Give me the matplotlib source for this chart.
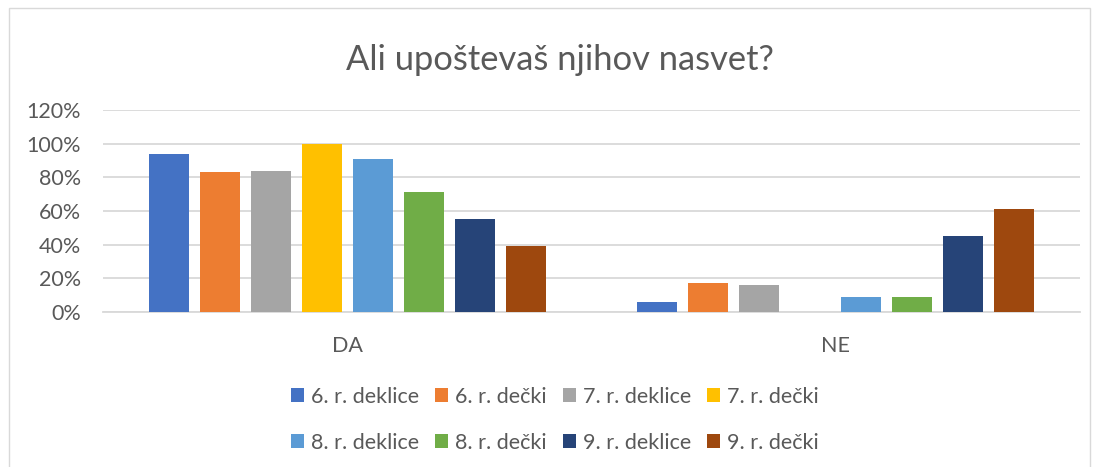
import numpy as np
import matplotlib.pyplot as plt
from matplotlib.patches import Rectangle
from matplotlib.ticker import FuncFormatter

plt.rcParams['font.family'] = ['Lato', 'DejaVu Sans']

categories = ['DA', 'NE']
series = ['6. r. deklice', '6. r. dečki', '7. r. deklice', '7. r. dečki',
          '8. r. deklice', '8. r. dečki', '9. r. deklice', '9. r. dečki']
values = [
    [94, 6],
    [83, 17],
    [84, 16],
    [100, 0],
    [91, 9],
    [71, 9],
    [55, 45],
    [39, 61],
]
colors = ['#4472c4', '#ed7d31', '#a5a5a5', '#ffc000',
          '#5b9bd5', '#70ad47', '#264478', '#9e480e']
title = 'Ali upoštevaš njihov nasvet?'

txt = '#595959'
grid = '#d9d9d9'

fig = plt.figure(figsize=(10.97, 4.67), dpi=100)
fig.patches.append(Rectangle((0.008, -0.01), 0.986, 0.993, transform=fig.transFigure,
                             fill=False, edgecolor='#d9d9d9', linewidth=1))
ax = fig.add_axes([0.0939, 0.332, 0.8906, 0.4325])

x = np.arange(len(categories))
slot = 0.1044
width = 0.082
n = len(series)
handles = []
for i, (name, vals, c) in enumerate(zip(series, values, colors)):
    offs = (i - (n - 1) / 2) * slot
    b = ax.bar(x + offs, np.array(vals) / 100, width, color=c, label=name, zorder=3)
    handles.append(b)

ax.set_xlim(-0.5, 1.5)
ax.set_ylim(0, 1.2)
ax.set_yticks(np.arange(0, 1.21, 0.2))
ax.yaxis.set_major_formatter(FuncFormatter(lambda v, p: '{:.0f}%'.format(v * 100)))
ax.set_xticks(x)
ax.set_xticklabels(categories)
ax.grid(axis='y', color=grid, linewidth=1.3, zorder=0)
for s in ['top', 'right', 'left']:
    ax.spines[s].set_visible(False)
ax.spines['bottom'].set_color(grid)
ax.spines['bottom'].set_linewidth(1.3)
ax.tick_params(length=0, labelcolor=txt, labelsize=15.5)
ax.tick_params(axis='x', pad=17)
ax.tick_params(axis='y', pad=16)

fig.text(0.51, 0.872, title, ha='center', va='center', fontsize=24.8, color=txt)

# matplotlib fills legend columns first, so interleave to get rows
order = [0, 4, 1, 5, 2, 6, 3, 7]
leg = fig.legend([handles[k] for k in order], [series[k] for k in order],
                 loc='center', bbox_to_anchor=(0.506, 0.101), ncol=4, frameon=False,
                 fontsize=15.5, labelcolor=txt, handlelength=0.6, handleheight=0.6,
                 handletextpad=0.33, columnspacing=0.75, labelspacing=1.2)

fig.savefig('out.png', dpi=100)
